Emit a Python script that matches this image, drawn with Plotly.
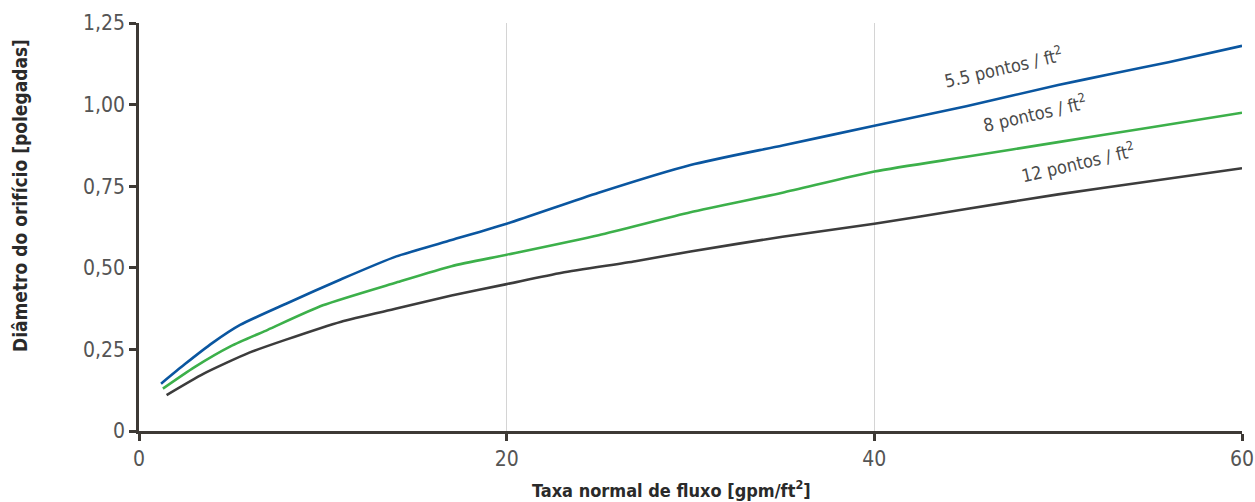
import plotly.graph_objects as go

# Data
x_blue = [1.2, 2.5, 4.0, 5.5, 8.0, 11.0, 14.0, 17.0, 20.0, 25.0, 30.0, 35.0, 40.0, 45.0, 50.0, 53.0, 56.0, 60.0]
y_blue = [0.145, 0.205, 0.27, 0.325, 0.39, 0.465, 0.535, 0.585, 0.635, 0.73, 0.815, 0.875, 0.935, 0.995, 1.06, 1.095, 1.13, 1.18]

x_green = [1.3, 3.0, 5.0, 7.0, 10.0, 14.0, 17.0, 20.0, 25.0, 30.0, 35.0, 40.0, 45.0, 50.0, 55.0, 60.0]
y_green = [0.13, 0.195, 0.26, 0.31, 0.385, 0.455, 0.505, 0.54, 0.6, 0.67, 0.73, 0.795, 0.84, 0.885, 0.93, 0.975]

x_dark = [1.5, 3.5, 6.0, 8.0, 11.0, 14.0, 17.0, 20.0, 23.0, 27.0, 30.0, 35.0, 40.0, 45.0, 50.0, 55.0, 60.0]
y_dark = [0.11, 0.175, 0.24, 0.28, 0.335, 0.375, 0.415, 0.45, 0.485, 0.52, 0.55, 0.595, 0.635, 0.68, 0.725, 0.765, 0.805]

series_names = ["5.5 pontos / ft²", "8 pontos / ft²", "12 pontos / ft²"]
series_colors = ["#0a56a0", "#3cb04a", "#3c3c3c"]

x_ticks = [0, 20, 40, 60]
y_ticks = [0, 0.25, 0.5, 0.75, 1.0, 1.25]
y_ticktext = ["0", "0,25", "0,50", "0,75", "1,00", "1,25"]

label_x = [47.0, 48.7, 51.1]
label_y = [1.115, 0.975, 0.825]
label_text = ["5.5 pontos / ft<sup>2</sup>", "8 pontos / ft<sup>2</sup>", "12 pontos / ft<sup>2</sup>"]

x_title = "<b>Taxa normal de fluxo [gpm/ft<sup>2</sup>]</b>"
y_title = "<b>Diâmetro do orifício [polegadas]</b>"

FONT = "DejaVu Sans Condensed"
AXIS = "#3d3935"

fig = go.Figure()
for xs, ys, name, col in zip([x_blue, x_green, x_dark], [y_blue, y_green, y_dark], series_names, series_colors):
    fig.add_trace(go.Scatter(x=xs, y=ys, mode="lines", name=name,
                             line=dict(color=col, width=2.6, shape="spline", smoothing=0.6),
                             showlegend=False, hoverinfo="skip"))

for lx, ly, lt in zip(label_x, label_y, label_text):
    fig.add_annotation(x=lx, y=ly, text=lt, showarrow=False, textangle=-13,
                       font=dict(family=FONT, size=18, color="#4a4a4a"))

fig.add_annotation(xref="paper", yref="paper", x=0.483, y=-0.142, text=x_title,
                   showarrow=False, xanchor="center", yanchor="middle",
                   font=dict(family=FONT, size=18, color="#2a2a2a"))
fig.add_annotation(xref="paper", yref="paper", x=-0.108, y=0.578, text=y_title,
                   showarrow=False, xanchor="center", yanchor="middle", textangle=-90,
                   font=dict(family=FONT, size=19, color="#2a2a2a"))

fig.update_layout(
    width=1255, height=502,
    margin=dict(l=139, r=13, t=23, b=71, autoexpand=False),
    plot_bgcolor="white", paper_bgcolor="white",
    font=dict(family=FONT, color="#4a4a4a"),
    xaxis=dict(range=[0, 60], tickvals=x_ticks, ticks="outside", ticklen=7, tickwidth=2.5,
               tickcolor=AXIS, showline=True, linecolor=AXIS, linewidth=2.5, automargin=False,
               showgrid=True, gridcolor="#d4d4d4", gridwidth=1, zeroline=False,
               tickfont=dict(family=FONT, size=21, color="#555555")),
    yaxis=dict(range=[0, 1.25], tickvals=y_ticks, ticktext=y_ticktext, ticks="outside",
               ticklen=7, tickwidth=2.5, tickcolor=AXIS, showline=True, linecolor=AXIS,
               linewidth=2.5, showgrid=False, zeroline=False, automargin=False,
               tickfont=dict(family=FONT, size=21, color="#555555")),
)

fig.write_html("out.html", config={"displayModeBar": False},
               post_script="document.body.style.margin='0';")
